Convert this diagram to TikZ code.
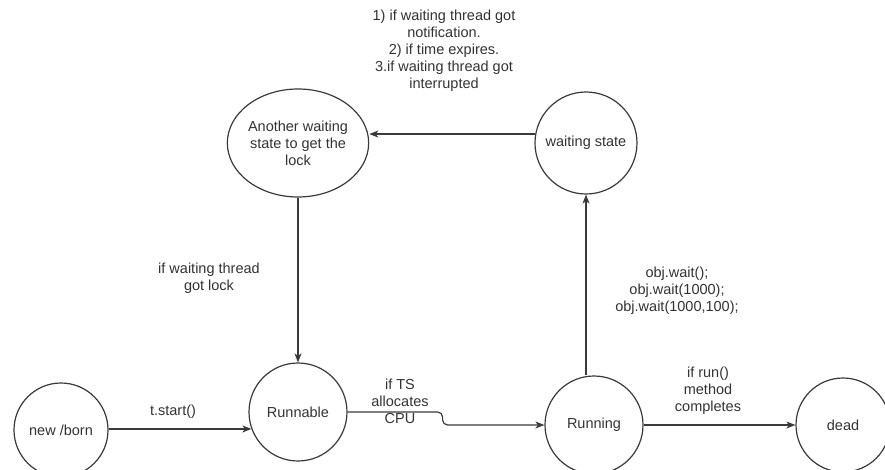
\documentclass[tikz,border=0pt]{standalone}
\usepackage{fontspec}
\setmainfont{Liberation Sans}
\usetikzlibrary{arrows.meta,shapes.geometric}
\definecolor{ink}{HTML}{3A3A3A}
\definecolor{txt}{HTML}{333333}
\begin{document}
\begin{tikzpicture}[x=1pt,y=-1pt,
  font=\fontsize{14.5}{17}\selectfont,
  state/.style={circle,draw=ink,line width=1.2pt,inner sep=0pt,text=txt,align=center},
  lbl/.style={text=txt,align=center,inner sep=0pt},
  arr/.style={draw=ink,line width=1.2pt,-{Stealth[length=9pt,width=7pt,inset=2.5pt]}}]
\useasboundingbox (0,0) rectangle (885,470);

% states
\node[state,minimum size=94pt] (born) at (61,430) {new /born};
\node[state,minimum size=98pt] (runnable) at (298,412) {Runnable};
\node[state,minimum size=98pt] (running) at (594,425) {Running};
\node[state,minimum size=94pt] (dead) at (843,425) {dead};
\node[state,minimum size=102pt] (waiting) at (586,143) {waiting state};
\node[ellipse,draw=ink,line width=1.2pt,inner sep=0pt,text=txt,align=center,
      minimum width=119pt,minimum height=108pt] (another) at (298,143)
      {Another waiting\\state to get the\\lock};

% transitions
\draw[arr] (runnable.200 -| born.east) -- (runnable.200);
\draw[arr,rounded corners=5pt] (runnable.east) -- ++(95,0) |- (running.west);
\draw[arr] (running.east) -- (dead.west);
\draw[arr] (running.north -| waiting.south) -- (waiting.south);
\draw[arr] (waiting.170) -- (waiting.170 -| another.east);
\draw[arr] (another.south) -- (runnable.north);

% transition labels
\node[lbl] (lstart) at (173,412) {t.start()};
\node[lbl] (lcpu) at (400,401) {if TS\\allocates\\CPU};
\node[lbl] (lrun) at (708,391) {if run()\\method\\completes};
\node[lbl] (lwait) at (677,291) {obj.wait();\\obj.wait(1000);\\obj.wait(1000,100);};
\node[lbl] (llock) at (209,278) {if waiting thread\\got lock};
\node[lbl] (lnotify) at (444,51) {1) if waiting thread got\\notification.\\2) if time expires.\\3.if waiting thread got\\interrupted};
\end{tikzpicture}
\end{document}
